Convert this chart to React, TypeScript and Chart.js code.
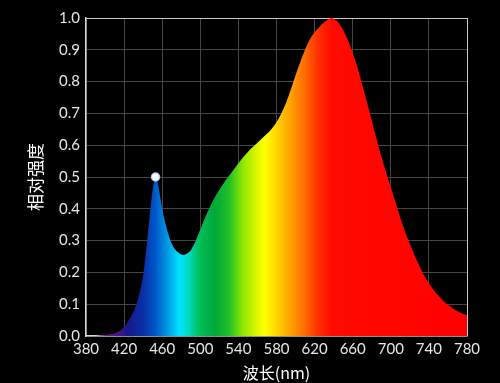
import React, { useEffect, useRef } from "react";
import { Chart, registerables } from "chart.js";

Chart.register(...registerables);

const wavelengths = [
  380, 385, 390, 395, 400, 405, 410, 415, 420, 425, 430, 435, 440, 445, 450, 453, 455, 460, 465, 470,
  475, 482, 487, 490, 495, 500, 505, 510, 515, 520, 525, 530, 535, 540, 545, 550, 555, 560, 565, 570,
  575, 580, 585, 590, 595, 600, 605, 610, 615, 620, 625, 630, 635, 638, 640, 645, 650, 655, 660, 665,
  670, 675, 680, 685, 690, 695, 700, 705, 710, 715, 720, 725, 730, 735, 740, 745, 750, 755, 760, 765,
  770, 775, 780,
];

const intensity = [
  0.0, 0.0, 0.0, 0.002, 0.003, 0.005, 0.008, 0.015, 0.028, 0.05, 0.077, 0.12, 0.19, 0.32, 0.46, 0.5, 0.485, 0.4, 0.335, 0.29,
  0.267, 0.255, 0.261, 0.27, 0.298, 0.335, 0.372, 0.405, 0.435, 0.46, 0.483, 0.503, 0.523, 0.543, 0.562, 0.579, 0.594, 0.608, 0.622, 0.636,
  0.652, 0.672, 0.7, 0.733, 0.775, 0.82, 0.862, 0.9, 0.932, 0.955, 0.972, 0.987, 0.997, 1.0, 0.998, 0.985, 0.962, 0.93, 0.89, 0.845,
  0.79, 0.735, 0.678, 0.62, 0.565, 0.515, 0.468, 0.42, 0.372, 0.328, 0.29, 0.253, 0.22, 0.19, 0.166, 0.145, 0.127, 0.111, 0.098, 0.087,
  0.078, 0.071, 0.065,
];

const peakWavelength = 453;

const spectrumStops: [number, string][] = [
  [380, "#b0208a"],
  [405, "#6a1090"],
  [425, "#141a88"],
  [440, "#0a2fa8"],
  [452, "#0055c8"],
  [465, "#0095e0"],
  [478, "#00e4ff"],
  [488, "#00d8c0"],
  [498, "#00c060"],
  [515, "#00a838"],
  [530, "#20c028"],
  [545, "#90e800"],
  [560, "#e0f800"],
  [568, "#ffff00"],
  [580, "#ffd400"],
  [595, "#ffa000"],
  [610, "#ff6a00"],
  [622, "#ff3500"],
  [638, "#ff0a00"],
  [780, "#ff0000"],
];

const xTicks = [380, 420, 460, 500, 540, 580, 620, 660, 700, 740, 780];
const yTitle = "相对强度";
const xTitle = "波长(nm)";

export default function App() {
  const ref = useRef<HTMLCanvasElement | null>(null);

  useEffect(() => {
    if (!ref.current) return;
    const points = wavelengths.map((w, i) => ({ x: w, y: intensity[i] }));
    const tickFont = { family: "Lato, 'Noto Sans', sans-serif", size: 15 };
    const chart = new Chart(ref.current, {
      type: "line",
      data: {
        datasets: [
          {
            data: points,
            fill: "origin",
            borderWidth: 0,
            borderColor: "rgba(0,0,0,0)",
            cubicInterpolationMode: "monotone",
            backgroundColor: (ctx: any) => {
              const { chart } = ctx;
              const area = chart.chartArea;
              if (!area) return "#ff0000";
              const xs = chart.scales.x;
              const g = chart.ctx.createLinearGradient(area.left, 0, area.right, 0);
              const span = area.right - area.left;
              spectrumStops.forEach(([w, c]) => {
                const p = (xs.getPixelForValue(w) - area.left) / span;
                g.addColorStop(Math.min(1, Math.max(0, p)), c);
              });
              return g;
            },
            pointRadius: wavelengths.map((w) => (w === peakWavelength ? 4 : 0)),
            pointHoverRadius: 0,
            pointBackgroundColor: "#ffffff",
            pointBorderColor: "rgba(190,210,255,0.9)",
            pointBorderWidth: 1.5,
          } as any,
        ],
      },
      options: {
        animation: false,
        responsive: false,
        maintainAspectRatio: false,
        layout: { padding: { top: 18, right: 33, left: 0, bottom: 0 } },
        plugins: { legend: { display: false }, tooltip: { enabled: false } },
        scales: {
          x: {
            type: "linear",
            min: 380,
            max: 780,
            afterBuildTicks: (scale: any) => {
              scale.ticks = xTicks.map((v) => ({ value: v }));
            },
            afterFit: (scale: any) => {
              scale.height = 47;
            },
            ticks: {
              color: "#e6e6e6",
              font: tickFont,
              padding: 4,
              maxRotation: 0,
              autoSkip: false,
              callback: (v: any) => String(v),
            },
            grid: {
              color: (ctx: any) => (ctx.tick && ctx.tick.value === 780 ? "#c8c8c8" : "#454545"),
              lineWidth: 1,
              drawTicks: false,
            },
            border: { color: "#d8d8d8", width: 1.5 },
            title: {
              display: true,
              text: xTitle,
              color: "#ffffff",
              font: { family: "'Noto Sans CJK SC', sans-serif", size: 16 },
              padding: { top: 0, bottom: 0 },
            },
          },
          y: {
            min: 0,
            max: 1,
            afterFit: (scale: any) => {
              scale.width = 86;
            },
            ticks: {
              stepSize: 0.1,
              color: "#e6e6e6",
              font: tickFont,
              padding: 6,
              callback: (v: any) => Number(v).toFixed(1),
            },
            grid: {
              color: (ctx: any) => (ctx.tick && Math.abs(ctx.tick.value - 1) < 1e-6 ? "#c8c8c8" : "#454545"),
              lineWidth: 1,
              drawTicks: false,
            },
            border: { color: "#d8d8d8", width: 1.5 },
            title: {
              display: true,
              text: yTitle,
              color: "#ffffff",
              font: { family: "'Noto Sans CJK SC', sans-serif", size: 17 },
              padding: { top: 25, bottom: 8 },
            },
          },
        },
      } as any,
    });
    return () => chart.destroy();
  }, []);

  return (
    <div style={{ position: "fixed", left: 0, top: 0, width: 500, height: 383, background: "#000" }}>
      <canvas ref={ref} width={500} height={383} style={{ display: "block", width: 500, height: 383 }} />
    </div>
  );
}
